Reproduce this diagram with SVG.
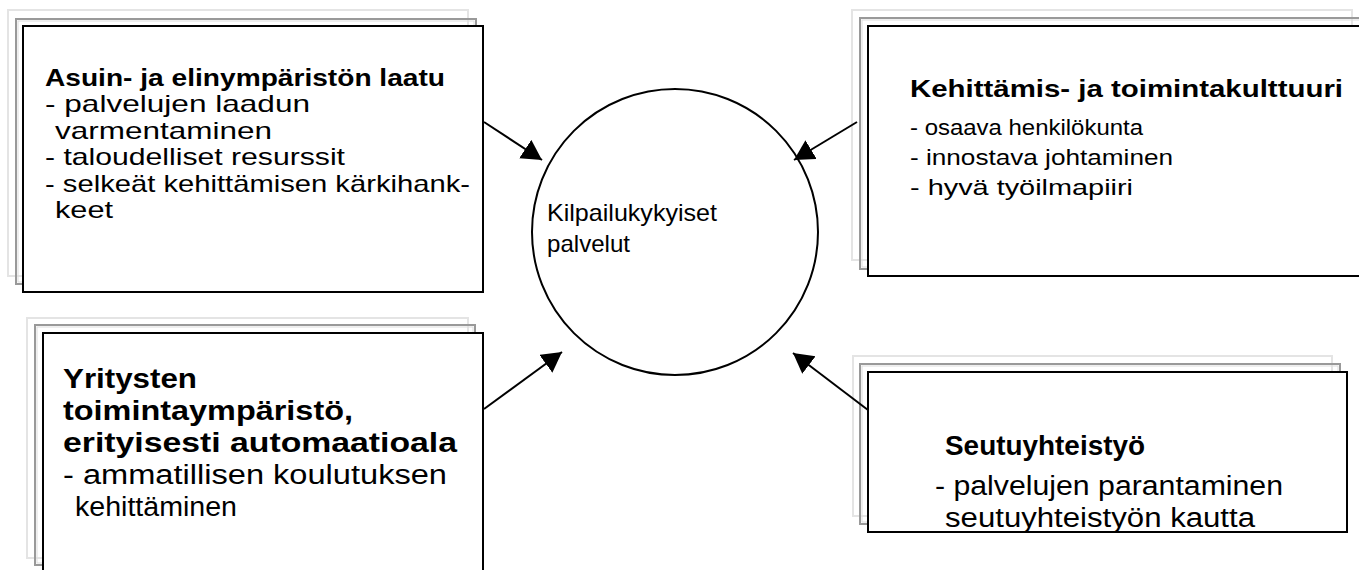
<svg xmlns="http://www.w3.org/2000/svg" width="1359" height="570" viewBox="0 0 1359 570">
<style>
.l{fill:none;stroke:#e4e4e4;stroke-width:2}
.m{fill:none;stroke:#999;stroke-width:2}
.mi{fill:none;stroke:#ddd;stroke-width:1}
.k{fill:#fff;stroke:#000;stroke-width:2}
text{font-family:"Liberation Sans",Arial,sans-serif;fill:#000}
.b{font-weight:bold}
.c{stroke:#000;stroke-width:2;fill:none}
</style>
<defs>
<marker id="ah" markerUnits="userSpaceOnUse" markerWidth="24" markerHeight="24" refX="20" refY="11" orient="auto" viewBox="0 0 24 24">
<path d="M0,0 L20,11 L0,22 Z" fill="#000"/>
</marker>
</defs>
<rect width="1359" height="570" fill="#fff"/>
<g id="box1">
<rect class="l" x="8" y="10" width="460" height="266"/>
<rect class="m" x="16" y="19" width="460" height="265"/>
<rect class="mi" x="18" y="21" width="456" height="261"/>
<rect class="k" x="23" y="26" width="460" height="266"/>
<text x="45" y="86" font-size="24" class="b" textLength="400" lengthAdjust="spacingAndGlyphs">Asuin- ja elinympäristön laatu</text>
<text x="45" y="112" font-size="24" textLength="265" lengthAdjust="spacingAndGlyphs">- palvelujen laadun</text>
<text x="55" y="139" font-size="24" textLength="217" lengthAdjust="spacingAndGlyphs">varmentaminen</text>
<text x="45" y="165" font-size="24" textLength="300" lengthAdjust="spacingAndGlyphs">- taloudelliset resurssit</text>
<text x="45" y="192" font-size="24" textLength="425" lengthAdjust="spacingAndGlyphs">- selkeät kehittämisen kärkihank-</text>
<text x="55" y="218" font-size="24" textLength="58" lengthAdjust="spacingAndGlyphs">keet</text>
</g>
<g id="box2">
<rect class="l" x="852" y="10" width="500" height="250"/>
<rect class="m" x="860" y="18" width="510" height="251"/>
<rect class="mi" x="862" y="20" width="510" height="247"/>
<rect class="k" x="868" y="26" width="510" height="250"/>
<text x="910" y="97" font-size="24" class="b" textLength="433" lengthAdjust="spacingAndGlyphs">Kehittämis- ja toimintakulttuuri</text>
<text x="910" y="135" font-size="22" textLength="233" lengthAdjust="spacingAndGlyphs">- osaava henkilökunta</text>
<text x="910" y="165" font-size="22" textLength="263" lengthAdjust="spacingAndGlyphs">- innostava johtaminen</text>
<text x="910" y="195" font-size="22" textLength="223" lengthAdjust="spacingAndGlyphs">- hyvä työilmapiiri</text>
</g>
<g id="box3">
<rect class="l" x="27" y="318" width="441" height="240"/>
<rect class="m" x="35" y="325" width="440" height="240"/>
<rect class="mi" x="37" y="327" width="436" height="236"/>
<rect class="k" x="43" y="333" width="440" height="250"/>
<text x="63" y="388" font-size="27" class="b" textLength="134" lengthAdjust="spacingAndGlyphs">Yritysten</text>
<text x="63" y="420" font-size="27" class="b" textLength="290" lengthAdjust="spacingAndGlyphs">toimintaympäristö,</text>
<text x="63" y="452" font-size="27" class="b" textLength="394" lengthAdjust="spacingAndGlyphs">erityisesti automaatioala</text>
<text x="63" y="484" font-size="27" textLength="384" lengthAdjust="spacingAndGlyphs">- ammatillisen koulutuksen</text>
<text x="75" y="516" font-size="27" textLength="162" lengthAdjust="spacingAndGlyphs">kehittäminen</text>
</g>
<g id="box4">
<rect class="l" x="853" y="356" width="479" height="160"/>
<rect class="m" x="860" y="364" width="480" height="160"/>
<rect class="mi" x="862" y="366" width="476" height="156"/>
<rect class="k" x="868" y="372" width="479" height="160"/>
<text x="945" y="455" font-size="28" class="b" textLength="200" lengthAdjust="spacingAndGlyphs">Seutuyhteistyö</text>
<text x="935" y="495" font-size="27" textLength="348" lengthAdjust="spacingAndGlyphs">- palvelujen parantaminen</text>
<text x="945" y="527" font-size="27" textLength="310" lengthAdjust="spacingAndGlyphs">seutuyhteistyön kautta</text>
</g>
<g id="center">
<circle cx="675" cy="232" r="143" fill="#fff" stroke="#000" stroke-width="2"/>
<text x="547" y="221" font-size="24" textLength="170" lengthAdjust="spacingAndGlyphs">Kilpailukykyiset</text>
<text x="547" y="252" font-size="24" textLength="83" lengthAdjust="spacingAndGlyphs">palvelut</text>
</g>
<g id="connectors">
<line class="c" x1="484" y1="122" x2="542" y2="160" marker-end="url(#ah)"/>
<line class="c" x1="857" y1="122" x2="794" y2="160" marker-end="url(#ah)"/>
<line class="c" x1="484" y1="409" x2="562" y2="352" marker-end="url(#ah)"/>
<line class="c" x1="868" y1="410" x2="793" y2="353" marker-end="url(#ah)"/>
</g>
</svg>
